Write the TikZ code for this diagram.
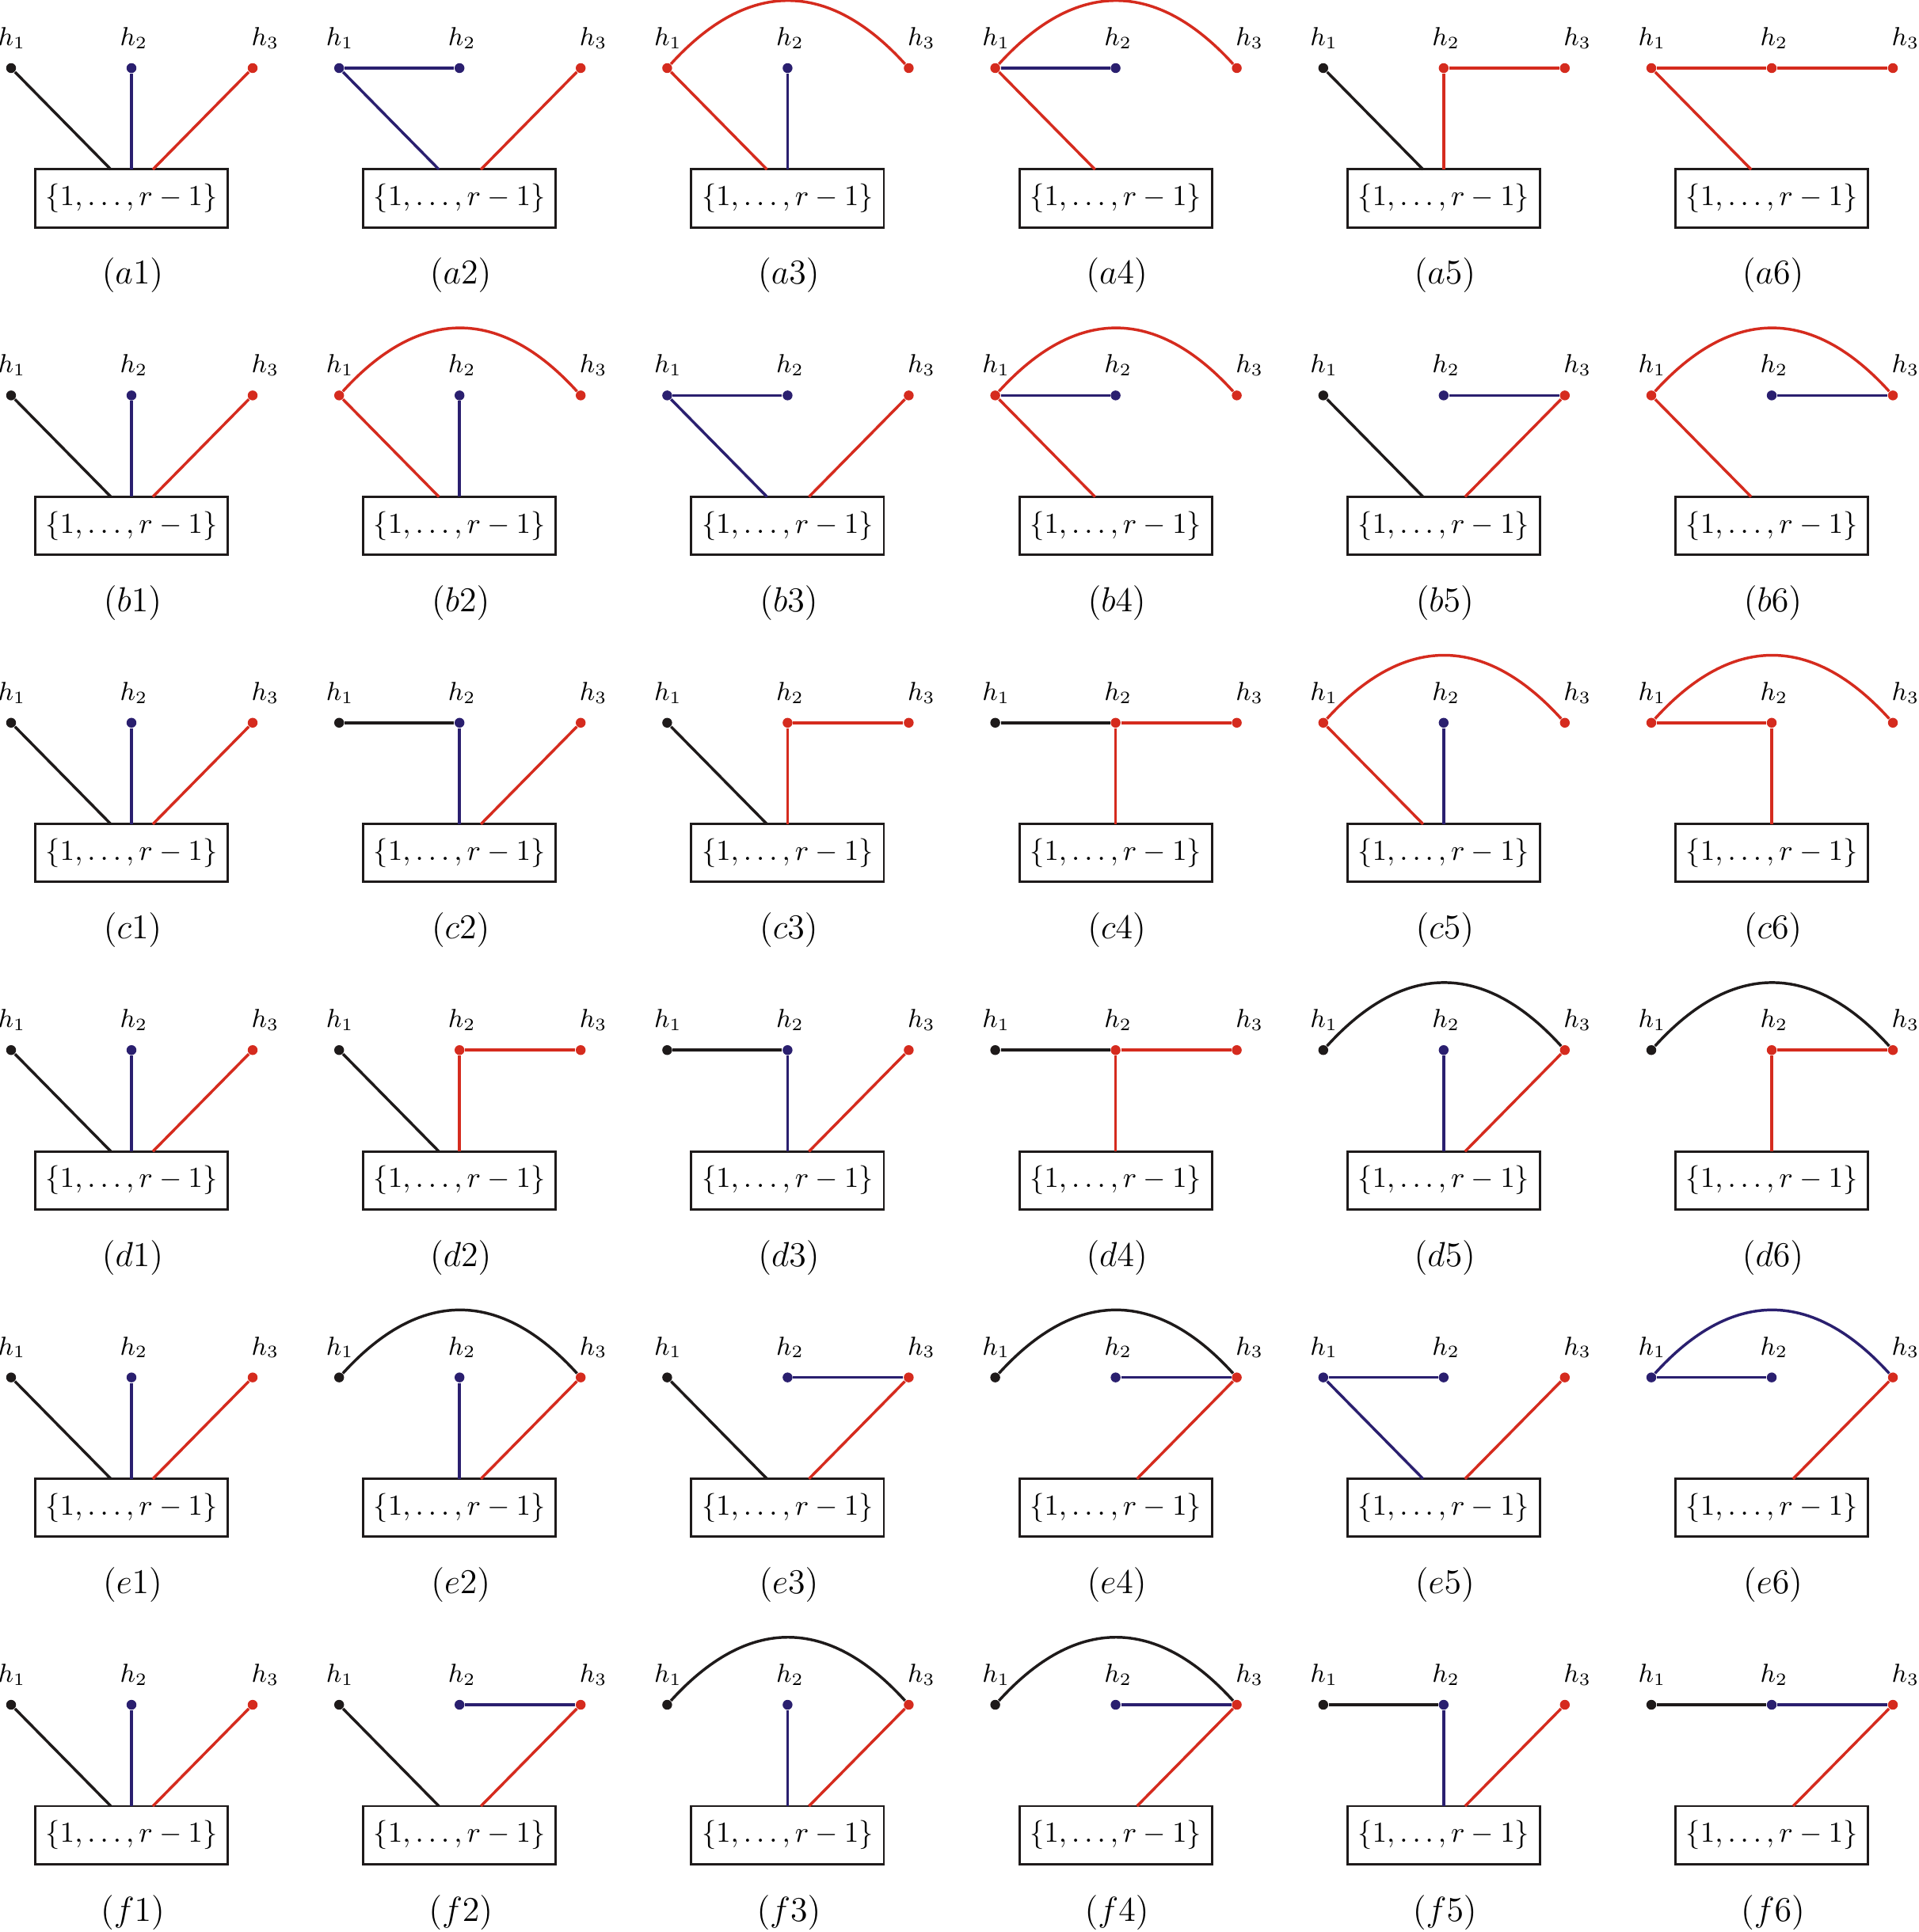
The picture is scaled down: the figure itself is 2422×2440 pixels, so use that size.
\documentclass[tikz,border=0pt]{standalone}
\definecolor{kk}{HTML}{1E1A1A}
\definecolor{bb}{HTML}{2A1F6F}
\definecolor{rr}{HTML}{D52B1E}
\tikzset{
  hdot/.style={circle,inner sep=0pt,minimum size=3.4pt,draw=none},
  hlab/.style={inner sep=0pt,font=\small},
  setbox/.style={draw=kk,line width=0.8pt,minimum width=66.5pt,minimum height=20pt,inner sep=0pt,font=\normalsize},
  captn/.style={inner sep=0pt,font=\large},
  ek/.style={draw=kk,line width=0.95pt},
  eb/.style={draw=bb,line width=0.95pt},
  er/.style={draw=rr,line width=0.95pt}
}
\newcommand\pnl[6]{%
 \begin{scope}[shift={(166+414.2*#2,86+413.4*#3)}]
  \node[hdot,fill=#4] (#1h1) at (-152,0) {};
  \node[hdot,fill=#5] (#1h2) at (0,0) {};
  \node[hdot,fill=#6] (#1h3) at (153,0) {};
  \node[hlab] (#1t1) at (-151,-38) {$h_1$};
  \node[hlab] (#1t2) at (3,-38) {$h_2$};
  \node[hlab] (#1t3) at (169,-38) {$h_3$};
  \node[setbox] (#1box) at (0,164.5) {$\{1,\ldots,r-1\}$};
  \coordinate (#1bl) at (-26,128);
  \coordinate (#1bm) at (0,128);
  \coordinate (#1br) at (27,128);
  \node[captn] (#1cap) at (1.5,262) {$(#1)$};
 \end{scope}}
\newcommand\eA[2]{\draw[#2] (#1h1) -- (#1bl);}
\newcommand\eB[2]{\draw[#2] (#1h2) -- (#1bm);}
\newcommand\eC[2]{\draw[#2] (#1h3) -- (#1br);}
\newcommand\eD[2]{\draw[#2] (#1h1) -- (#1h2);}
\newcommand\eE[2]{\draw[#2] (#1h2) -- (#1h3);}
\newcommand\eF[2]{\draw[#2] (#1h1) .. controls +(101.7,-112) and +(-101.7,-112) .. (#1h3);}
\begin{document}
\begin{tikzpicture}[x=0.2735pt,y=-0.2735pt]
\useasboundingbox (0,0) rectangle (2422,2440);
% row a
\pnl{a1}{0}{0}{kk}{bb}{rr} \eA{a1}{ek} \eB{a1}{eb} \eC{a1}{er}
\pnl{a2}{1}{0}{bb}{bb}{rr} \eD{a2}{eb} \eA{a2}{eb} \eC{a2}{er}
\pnl{a3}{2}{0}{rr}{bb}{rr} \eF{a3}{er} \eA{a3}{er} \eB{a3}{eb}
\pnl{a4}{3}{0}{rr}{bb}{rr} \eF{a4}{er} \eD{a4}{eb} \eA{a4}{er}
\pnl{a5}{4}{0}{kk}{rr}{rr} \eA{a5}{ek} \eB{a5}{er} \eE{a5}{er}
\pnl{a6}{5}{0}{rr}{rr}{rr} \eD{a6}{er} \eE{a6}{er} \eA{a6}{er}
% row b
\pnl{b1}{0}{1}{kk}{bb}{rr} \eA{b1}{ek} \eB{b1}{eb} \eC{b1}{er}
\pnl{b2}{1}{1}{rr}{bb}{rr} \eF{b2}{er} \eA{b2}{er} \eB{b2}{eb}
\pnl{b3}{2}{1}{bb}{bb}{rr} \eD{b3}{eb} \eA{b3}{eb} \eC{b3}{er}
\pnl{b4}{3}{1}{rr}{bb}{rr} \eF{b4}{er} \eD{b4}{eb} \eA{b4}{er}
\pnl{b5}{4}{1}{kk}{bb}{rr} \eA{b5}{ek} \eE{b5}{eb} \eC{b5}{er}
\pnl{b6}{5}{1}{rr}{bb}{rr} \eF{b6}{er} \eE{b6}{eb} \eA{b6}{er}
% row c
\pnl{c1}{0}{2}{kk}{bb}{rr} \eA{c1}{ek} \eB{c1}{eb} \eC{c1}{er}
\pnl{c2}{1}{2}{kk}{bb}{rr} \eD{c2}{ek} \eB{c2}{eb} \eC{c2}{er}
\pnl{c3}{2}{2}{kk}{rr}{rr} \eA{c3}{ek} \eB{c3}{er} \eE{c3}{er}
\pnl{c4}{3}{2}{kk}{rr}{rr} \eD{c4}{ek} \eE{c4}{er} \eB{c4}{er}
\pnl{c5}{4}{2}{rr}{bb}{rr} \eF{c5}{er} \eA{c5}{er} \eB{c5}{eb}
\pnl{c6}{5}{2}{rr}{rr}{rr} \eF{c6}{er} \eD{c6}{er} \eB{c6}{er}
% row d
\pnl{d1}{0}{3}{kk}{bb}{rr} \eA{d1}{ek} \eB{d1}{eb} \eC{d1}{er}
\pnl{d2}{1}{3}{kk}{rr}{rr} \eA{d2}{ek} \eB{d2}{er} \eE{d2}{er}
\pnl{d3}{2}{3}{kk}{bb}{rr} \eD{d3}{ek} \eB{d3}{eb} \eC{d3}{er}
\pnl{d4}{3}{3}{kk}{rr}{rr} \eD{d4}{ek} \eE{d4}{er} \eB{d4}{er}
\pnl{d5}{4}{3}{kk}{bb}{rr} \eF{d5}{ek} \eB{d5}{eb} \eC{d5}{er}
\pnl{d6}{5}{3}{kk}{rr}{rr} \eF{d6}{ek} \eE{d6}{er} \eB{d6}{er}
% row e
\pnl{e1}{0}{4}{kk}{bb}{rr} \eA{e1}{ek} \eB{e1}{eb} \eC{e1}{er}
\pnl{e2}{1}{4}{kk}{bb}{rr} \eF{e2}{ek} \eB{e2}{eb} \eC{e2}{er}
\pnl{e3}{2}{4}{kk}{bb}{rr} \eA{e3}{ek} \eE{e3}{eb} \eC{e3}{er}
\pnl{e4}{3}{4}{kk}{bb}{rr} \eF{e4}{ek} \eE{e4}{eb} \eC{e4}{er}
\pnl{e5}{4}{4}{bb}{bb}{rr} \eD{e5}{eb} \eA{e5}{eb} \eC{e5}{er}
\pnl{e6}{5}{4}{bb}{bb}{rr} \eF{e6}{eb} \eD{e6}{eb} \eC{e6}{er}
% row f
\pnl{f1}{0}{5}{kk}{bb}{rr} \eA{f1}{ek} \eB{f1}{eb} \eC{f1}{er}
\pnl{f2}{1}{5}{kk}{bb}{rr} \eA{f2}{ek} \eE{f2}{eb} \eC{f2}{er}
\pnl{f3}{2}{5}{kk}{bb}{rr} \eF{f3}{ek} \eB{f3}{eb} \eC{f3}{er}
\pnl{f4}{3}{5}{kk}{bb}{rr} \eF{f4}{ek} \eE{f4}{eb} \eC{f4}{er}
\pnl{f5}{4}{5}{kk}{bb}{rr} \eD{f5}{ek} \eB{f5}{eb} \eC{f5}{er}
\pnl{f6}{5}{5}{kk}{bb}{rr} \eD{f6}{ek} \eE{f6}{eb} \eC{f6}{er}
\end{tikzpicture}
\end{document}
